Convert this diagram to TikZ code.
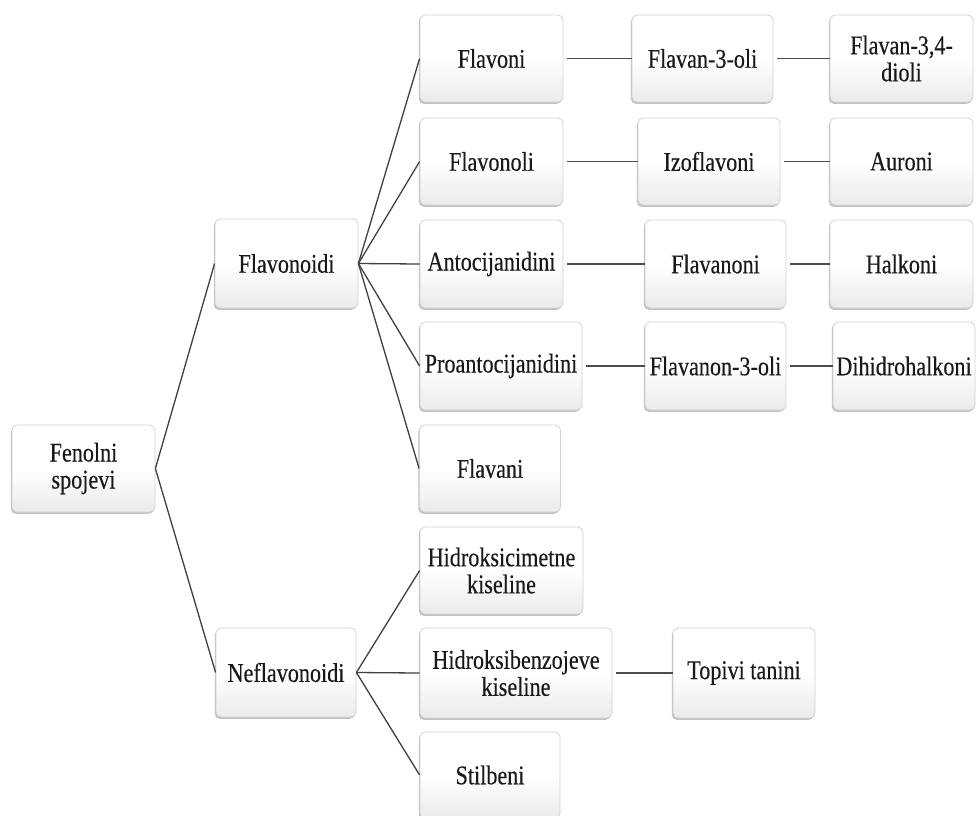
\documentclass[tikz,border=0pt]{standalone}
\usepackage{fontspec}
\newfontfamily\boxfont[FakeStretch=0.82,FakeBold=0.3]{Liberation Serif}
\usetikzlibrary{shadows}
\tikzset{
  box/.style={rectangle, rounded corners=5pt, draw=gray!35, line width=0.8pt,
    top color=white, bottom color=gray!16, middle color=white,
    drop shadow={shadow xshift=-1.2pt, shadow yshift=-1.8pt, fill=gray!60, opacity=0.8},
    align=center, inner sep=2pt, text=black!90,
    font=\boxfont\fontsize{27}{27}\selectfont,
    minimum width=143pt, minimum height=88pt},
  link/.style={draw=black!75, line width=1.3pt},
  hlink/.style={draw=black!70, line width=1.8pt, shorten <=4pt}
}
\begin{document}
\begin{tikzpicture}[x=1pt,y=-1pt]
\useasboundingbox[fill=white] (0,0) rectangle (976,815);
% column 1
\node[box, minimum height=87pt] (fen) at (83.5,468.5) {Fenolni\\spojevi};
% column 2
\node[box, minimum height=89pt] (flavd) at (286.5,263.5) {Flavonoidi};
\node[box, minimum width=140pt, minimum height=89pt] (nefl) at (286,672.5) {Neflavonoidi};
% column 3
\node[box, minimum height=87pt] (flavoni) at (491.5,58.5) {Flavoni};
\node[box, minimum height=87pt] (flavonoli) at (491.5,161.5) {Flavonoli};
\node[box] (antoc) at (491.5,264) {Antocijanidini};
\node[box, minimum width=162pt] (proant) at (501,366) {Proantocijanidini};
\node[box, minimum width=141pt, minimum height=87pt] (flavani) at (490,468.5) {Flavani};
\node[box, minimum width=163pt, minimum height=87pt] (hidrc) at (501.5,570.5) {Hidroksicimetne\\kiseline};
\node[box, minimum width=192pt, minimum height=90pt] (hidrb) at (516,673) {Hidroksibenzojeve\\kiseline};
\node[box, minimum width=140pt, minimum height=86pt] (stilb) at (490,775) {Stilbeni};
% column 4
\node[box, minimum width=141pt, minimum height=87pt] (fl3) at (702.5,58.5) {Flavan-3-oli};
\node[box, minimum width=142pt, minimum height=87pt] (izof) at (709,161.5) {Izoflavoni};
\node[box, minimum width=141pt] (flavanoni) at (715.5,264) {Flavanoni};
\node[box, minimum width=141pt] (fl3on) at (715.5,366) {Flavanon-3-oli};
\node[box, minimum width=142pt, minimum height=90pt] (topivi) at (744,673) {Topivi tanini};
% column 5
\node[box, minimum height=87pt] (fl34) at (901.5,58.5) {Flavan-3,4-\\dioli};
\node[box, minimum height=87pt] (auroni) at (901.5,161.5) {Auroni};
\node[box] (halkoni) at (901.5,264) {Halkoni};
\node[box, minimum width=142pt] (dihidro) at (904,366) {Dihidrohalkoni};
% connectors
\draw[link] (fen.east) -- (flavd.west);
\draw[link] (fen.east) -- (nefl.west);
\foreach \t in {flavoni,flavonoli,antoc,proant,flavani}
  \draw[link] (flavd.east) -- (\t.west);
\foreach \t in {hidrc,hidrb,stilb}
  \draw[link] (nefl.east) -- (\t.west);
\draw[hlink] (flavoni) -- (fl3);
\draw[hlink] (fl3) -- (fl34);
\draw[hlink] (flavonoli) -- (izof);
\draw[hlink] (izof) -- (auroni);
\draw[hlink] (antoc) -- (flavanoni);
\draw[hlink] (flavanoni) -- (halkoni);
\draw[hlink] (proant) -- (fl3on);
\draw[hlink] (fl3on) -- (dihidro);
\draw[hlink] (hidrb) -- (topivi);
\end{tikzpicture}
\end{document}
